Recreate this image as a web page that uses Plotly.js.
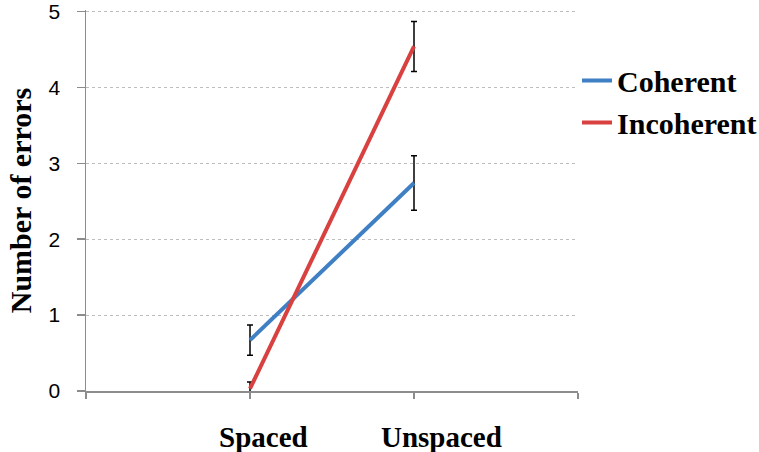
<!DOCTYPE html>
<html>
<head>
<meta charset="utf-8">
<script src="https://cdn.plot.ly/plotly-3.0.1.min.js"></script>
<style>html,body{margin:0;padding:0;background:#fff;}#chart{width:759px;height:452px;}</style>
</head>
<body>
<div id="chart"></div>
<script>
// Data
const categories = ['Spaced', 'Unspaced'];
const seriesNames = ['Coherent', 'Incoherent'];
const coherent = [0.67, 2.74];
const coherentErr = [0.20, 0.36];
const incoherent = [0.03, 4.54];
const incoherentErr = [0.09, 0.33];
const yTicks = [0, 1, 2, 3, 4, 5];

// category index -> position on numeric axis (0 and 3 are empty edges)
const xpos = categories.map((c, i) => i + 1);
const labelShift = [0.08, 0.17];

const serif = 'Liberation Serif, Times New Roman, serif';

const traces = [
  {
    x: xpos, y: coherent, name: '<b>' + seriesNames[0] + '</b>', type: 'scatter', mode: 'lines',
    line: {color: '#3F7FC4', width: 4},
    error_y: {type: 'data', array: coherentErr, visible: true, color: '#000', thickness: 1.5, width: 3}
  },
  {
    x: xpos, y: incoherent, name: '<b>' + seriesNames[1] + '</b>', type: 'scatter', mode: 'lines',
    line: {color: '#D8413F', width: 4},
    error_y: {type: 'data', array: incoherentErr, visible: true, color: '#000', thickness: 1.5, width: 3}
  }
];

const annotations = categories.map((c, i) => ({
  text: '<b>' + c + '</b>', x: xpos[i] + labelShift[i], xref: 'x',
  y: 0, yref: 'paper', yanchor: 'top', yshift: -28, showarrow: false,
  font: {family: serif, size: 29, color: '#000'}
}));

const layout = {
  width: 759, height: 452,
  margin: {l: 86, r: 181, t: 10, b: 61, autoexpand: false},
  paper_bgcolor: '#fff', plot_bgcolor: '#fff',
  showlegend: true,
  legend: {
    x: 0.998, xanchor: 'left', y: 0.883, yanchor: 'top',
    font: {family: serif, size: 30, color: '#000'},
    bgcolor: 'rgba(0,0,0,0)', tracegroupgap: 0
  },
  xaxis: {
    range: [0, 3], tickvals: [0, 1, 2, 3], ticktext: ['', '', '', ''],
    showgrid: false, zeroline: false,
    showline: true, linecolor: '#8c8c8c', linewidth: 1.5,
    ticks: 'outside', ticklen: 6, tickcolor: '#8c8c8c', tickwidth: 1.5,
    fixedrange: true
  },
  yaxis: {
    range: [0, 5.02], tickvals: yTicks,
    showgrid: true, gridcolor: '#bdbdbd', griddash: 'dot', gridwidth: 1,
    zeroline: false,
    showline: true, linecolor: '#8c8c8c', linewidth: 1.5,
    ticks: 'outside', ticklen: 8, tickcolor: '#8c8c8c', tickwidth: 1.5,
    ticklabelstandoff: 12, ticklabeloverflow: 'allow',
    tickfont: {family: 'Liberation Sans, Arial, sans-serif', size: 21, color: '#000'},
    title: {text: '<b>Number of errors</b>', font: {family: serif, size: 30, color: '#000'}, standoff: 8},
    fixedrange: true
  },
  annotations: annotations
};

Plotly.newPlot('chart', traces, layout, {displayModeBar: false, staticPlot: true});
</script>
</body>
</html>
